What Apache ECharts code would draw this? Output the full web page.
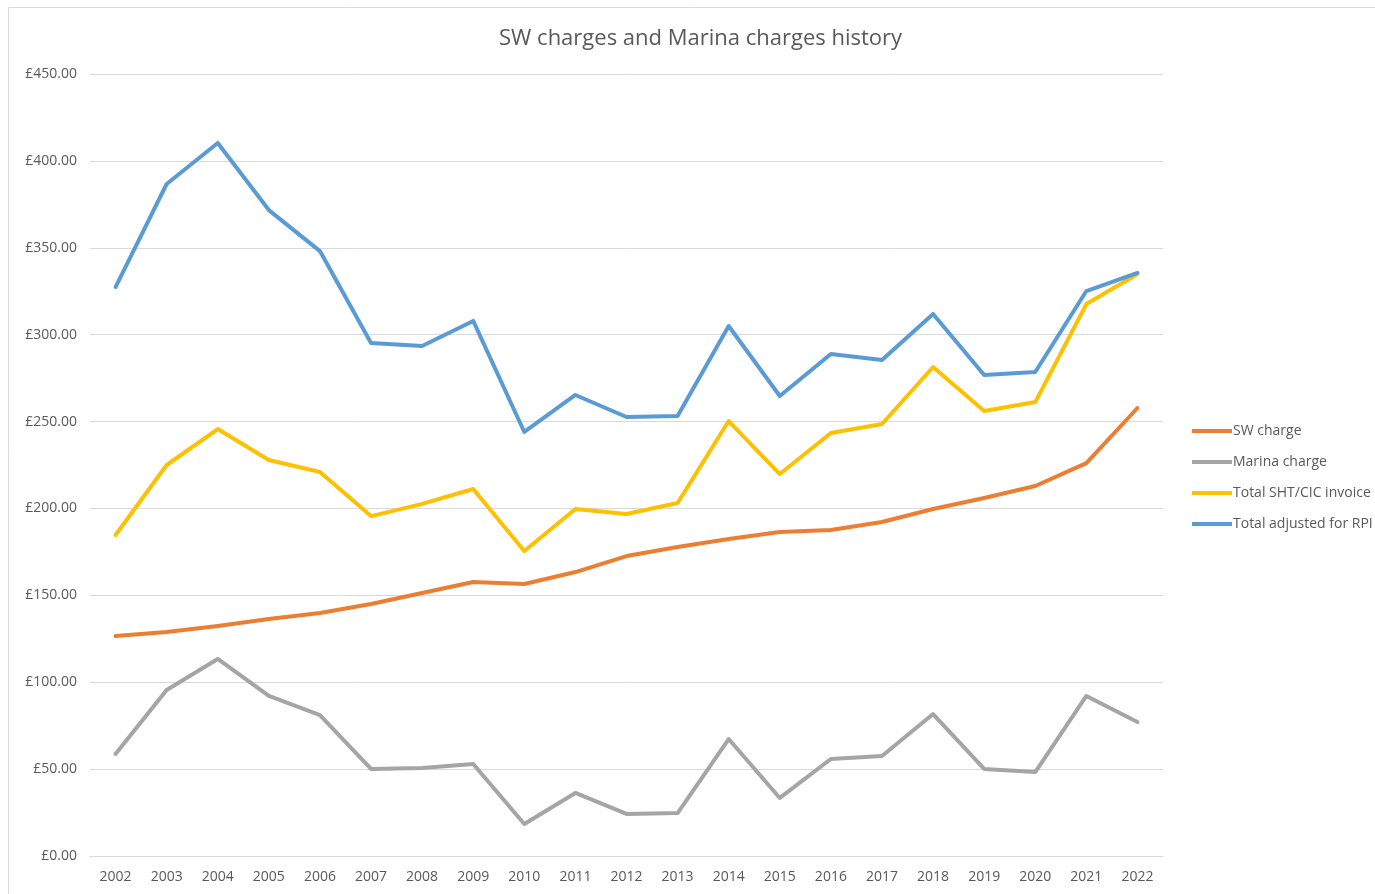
<!DOCTYPE html>
<html>
<head>
<meta charset="utf-8">
<script src="https://cdn.jsdelivr.net/npm/echarts@6/dist/echarts.min.js"></script>
<style>
  html, body { margin: 0; padding: 0; background: #fff; }
  #chart { width: 1375px; height: 894px; }
</style>
</head>
<body>
<div id="chart"></div>
<script>
const years = ['2002', '2003', '2004', '2005', '2006', '2007', '2008', '2009', '2010', '2011',
  '2012', '2013', '2014', '2015', '2016', '2017', '2018', '2019', '2020', '2021', '2022']

const swCharge = [126.6, 128.9, 132.4, 136.4, 139.8, 145.0, 151.3, 157.7, 156.5, 163.4,
  172.6, 177.8, 182.4, 186.4, 187.6, 192.2, 199.7, 206.0, 212.9, 226.1, 257.8]
const marinaCharge = [58.7, 95.5, 113.4, 92.1, 81.1, 50.1, 50.6, 52.9, 18.4, 36.3,
  24.2, 24.7, 67.3, 33.4, 55.8, 57.5, 81.7, 50.1, 48.3, 92.1, 77.1]
const totalInvoice = [184.7, 225.0, 245.7, 227.9, 221.0, 195.6, 202.6, 211.2, 175.5, 199.7,
  196.8, 203.1, 250.3, 219.8, 243.4, 248.6, 281.4, 256.1, 261.2, 317.6, 334.9]
const totalRpi = [327.4, 386.7, 410.3, 371.7, 348.1, 295.2, 293.5, 307.9, 244.0, 265.3,
  252.6, 253.2, 305.0, 264.7, 288.9, 285.4, 311.9, 276.8, 278.5, 325.1, 335.5]

const seriesNames = ['SW charge', 'Marina charge', 'Total SHT/CIC invoice', 'Total adjusted for RPI']
const seriesColors = ['#ED7D31', '#A5A5A5', '#FFC000', '#5B9BD5']

const font = '"Open Sans", "Noto Sans", sans-serif'
const textColor = '#595959'

const myChart = echarts.init(document.getElementById('chart'))

const makeLine = (name, data, color) => ({
  name: name,
  type: 'line',
  data: data,
  showSymbol: false,
  symbol: 'none',
  lineStyle: { width: 4, color: color, cap: 'round', join: 'round' },
  itemStyle: { color: color }
})

myChart.setOption({
  animation: false,
  backgroundColor: '#fff',
  graphic: [
    {
      type: 'rect',
      shape: { x: 8.5, y: 7.5, width: 1380, height: 900 },
      style: { fill: 'none', stroke: '#D9D9D9', lineWidth: 1 },
      silent: true
    }
  ],
  title: {
    text: 'SW charges and Marina charges history',
    left: 494,
    top: 23,
    textStyle: {
      fontFamily: font,
      fontSize: 22,
      fontWeight: 'normal',
      color: textColor
    }
  },
  legend: {
    orient: 'vertical',
    left: 1187,
    top: 419,
    itemWidth: 40,
    itemHeight: 4,
    itemGap: 17,
    icon: 'rect',
    data: seriesNames,
    textStyle: { fontFamily: font, fontSize: 14, color: textColor, padding: [0, 0, 0, -4] }
  },
  grid: {
    left: 90,
    right: 212,
    top: 74,
    bottom: 38,
    containLabel: false
  },
  xAxis: {
    type: 'category',
    data: years,
    boundaryGap: true,
    axisLine: { show: true, lineStyle: { color: '#D9D9D9', width: 1 } },
    axisTick: { show: false },
    axisLabel: { fontFamily: font, fontSize: 14, color: textColor, margin: 14 }
  },
  yAxis: {
    type: 'value',
    min: 0,
    max: 450,
    interval: 50,
    axisLine: { show: false },
    axisTick: { show: false },
    splitLine: { lineStyle: { color: '#D9D9D9', width: 1 } },
    axisLabel: {
      fontFamily: font,
      fontSize: 14,
      color: textColor,
      margin: 13,
      formatter: (v) => '£' + v.toFixed(2)
    }
  },
  series: [
    makeLine(seriesNames[0], swCharge, seriesColors[0]),
    makeLine(seriesNames[1], marinaCharge, seriesColors[1]),
    makeLine(seriesNames[2], totalInvoice, seriesColors[2]),
    makeLine(seriesNames[3], totalRpi, seriesColors[3])
  ]
})
</script>
</body>
</html>
